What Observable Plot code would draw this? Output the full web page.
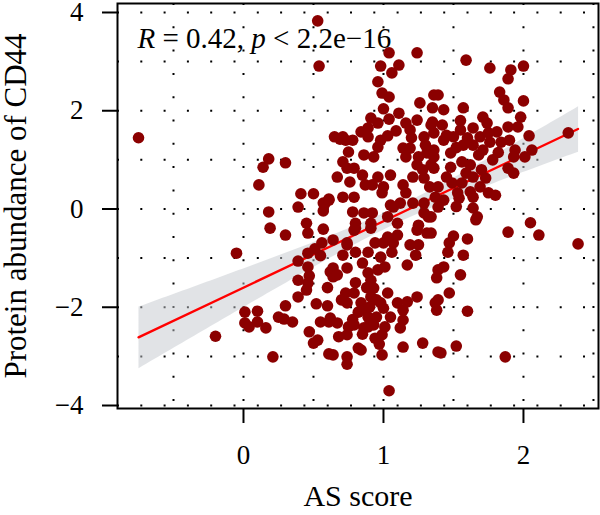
<!DOCTYPE html>
<html><head><meta charset="utf-8">
<script src="https://cdn.jsdelivr.net/npm/d3@7"></script>
<script src="https://cdn.jsdelivr.net/npm/@observablehq/plot@0.6"></script>
<style>body{margin:0;background:#fff} svg{display:block}</style>
</head><body><div id="chart"></div>
<script>
const asScore = [
-0.75,-0.05,-0.20,0.18,0.14,0.30,0.11,0.18,0.19,0.30,
0.39,0.39,0.39,0.39,0.30,0.25,0.29,0.01,0.10,0.01,
0.10,0.04,0.16,0.21,0.41,0.50,0.61,0.58,0.57,0.45,
0.46,0.57,0.64,0.56,0.51,0.46,0.46,0.47,0.46,0.62,
0.64,0.64,0.52,0.60,0.62,0.61,0.67,0.47,0.53,0.50,
0.61,0.53,0.54,0.65,0.69,0.67,0.71,0.57,0.61,0.71,
0.73,0.71,0.74,0.74,0.67,1.04,1.24,0.98,1.11,1.06,
0.96,0.99,1.04,1.26,1.36,1.39,1.35,1.00,1.11,0.91,
0.96,1.04,1.16,1.24,1.19,1.34,1.29,1.36,1.09,0.89,
0.84,0.78,0.89,0.98,1.03,0.96,0.75,0.71,0.74,0.79,
0.86,0.93,1.14,1.19,1.16,1.25,1.31,1.36,1.24,1.34,
0.85,0.96,1.05,0.76,0.87,0.92,1.00,1.14,1.21,1.29,
0.79,0.99,1.16,1.12,1.21,1.29,1.07,0.78,0.86,0.92,
1.03,1.29,0.80,0.91,1.10,1.25,0.80,0.91,1.05,1.24,
1.31,0.74,0.80,0.89,0.94,1.00,1.07,1.10,1.03,1.19,
1.25,1.23,1.06,0.98,0.79,0.75,1.01,1.17,0.96,0.89,
0.91,0.93,0.91,1.03,0.73,0.79,0.74,0.84,0.86,0.98,
1.10,1.17,1.24,1.00,1.14,0.79,0.89,0.89,0.93,1.01,
1.14,1.12,0.74,0.86,1.14,0.99,0.94,1.28,0.84,0.64,
0.74,0.74,0.99,1.04,1.39,1.39,0.82,1.59,1.76,1.91,
2.00,1.89,1.83,1.86,2.00,1.89,1.57,1.43,1.35,1.42,
1.71,1.74,1.98,1.96,1.89,1.55,1.64,1.81,1.50,1.69,
1.76,1.84,1.43,1.57,1.64,1.71,2.04,2.06,1.94,2.01,
1.93,1.36,1.48,1.56,1.62,1.36,1.89,1.93,1.59,1.64,
1.73,1.49,1.56,1.39,1.69,1.75,1.80,1.64,1.53,1.37,
1.43,1.39,1.54,1.64,1.67,1.34,1.66,2.05,1.89,2.11,
1.50,1.47,1.60,1.46,1.57,1.43,1.39,1.38,1.55,1.47,
1.37,1.38,1.60,1.52,1.41,1.87,2.39,2.32,1.34,1.32,
1.45,1.52,1.60,1.68,1.75,1.55,1.48,1.62,1.70,1.82,
1.30,1.20,1.45,1.33,1.28,1.78,1.90,1.52,0.82,0.90,
0.95,0.85,0.78,0.95,1.05,0.70,0.88,0.60,0.55,0.68,
0.97,0.80,0.45,0.35,0.55,0.85
];
const cd44 = [
1.45,-0.90,-2.59,1.02,0.85,0.94,0.49,-0.06,-0.39,-0.53,
0.04,-1.06,-1.45,-1.79,-1.97,-2.20,-2.24,-2.10,-2.08,-2.32,
-2.30,-2.40,-2.42,-3.01,0.31,0.31,0.20,0.10,-0.04,-0.29,
-0.49,-0.41,-0.63,-0.69,-0.81,-0.90,-1.18,-1.36,-1.51,-1.28,
-1.38,-1.20,-1.93,-1.97,-2.22,-2.30,-2.32,-2.50,-2.67,-2.73,
-2.95,3.83,2.91,1.47,1.42,0.65,0.24,0.12,0.18,1.47,
1.40,-0.94,-0.73,-1.20,-1.34,3.18,3.18,2.91,2.93,2.77,
2.59,2.36,2.28,2.16,2.32,2.32,2.06,2.04,1.95,1.85,
1.75,1.83,1.75,1.81,1.61,1.71,1.47,1.55,1.59,1.65,
1.57,1.40,1.47,1.40,1.49,1.26,1.16,0.96,0.83,0.83,
1.10,1.06,1.24,1.24,1.06,1.06,1.14,1.06,0.90,0.90,
0.69,0.65,0.69,0.55,0.49,0.49,0.45,0.49,0.65,0.63,
0.24,0.33,0.33,0.12,0.12,0.12,0.04,-0.06,-0.08,-0.08,
-0.16,-0.08,-0.29,-0.29,-0.29,-0.33,-0.39,-0.39,0.08,-0.43,
-0.49,-0.69,-0.88,-0.88,-0.69,-0.69,-0.69,-0.53,-0.57,-0.73,
-0.73,-0.94,-0.88,-0.98,-0.43,-2.40,-1.18,-1.14,-1.24,-1.30,
-1.45,-1.61,-1.79,-1.71,-1.71,-1.71,-1.91,-1.91,-2.06,-1.91,
-1.91,-1.89,-1.79,-2.02,-2.06,-2.36,-2.20,-2.40,-2.36,-2.40,
-2.26,-2.42,-2.56,-2.42,-2.81,-2.56,-2.63,-2.73,-2.87,-2.97,
-3.01,-3.16,-2.97,-3.70,-1.85,-2.91,-2.83,3.03,2.87,2.83,
2.91,2.65,2.38,2.22,2.20,2.06,2.06,2.02,1.77,1.71,
1.87,1.75,1.87,1.67,1.67,1.61,1.65,1.57,1.47,1.47,
1.36,1.36,1.40,1.30,1.30,1.20,1.49,1.20,1.20,1.06,
1.06,1.20,1.14,0.96,0.90,0.83,0.83,0.73,0.73,0.65,
0.63,0.53,0.53,0.45,0.45,0.33,0.28,0.24,0.33,0.24,
0.18,0.04,0.22,0.02,-0.16,-0.16,-0.22,-0.28,-0.47,-0.53,
-0.55,-0.69,-0.61,-0.88,-0.94,-1.18,-1.24,-1.40,-1.34,-1.71,
-1.91,-2.06,-2.08,-2.79,-2.93,-3.01,-0.71,1.55,-0.49,-0.16,
1.50,1.25,1.45,1.10,1.55,1.80,0.85,0.35,0.80,1.15,
1.30,1.45,0.65,0.45,0.80,1.00,1.40,0.05,-2.10,-2.00,
-2.20,-2.55,-2.25,-1.85,-2.20,-1.85,-1.60,-1.60,-2.30,-2.60,
-2.75,-1.50,-1.65,-2.30,-0.95,-1.10
];
const xTicks = [0, 1, 2];
const yTicks = [-4, -2, 0, 2, 4];
const xGrid = [-0.5, 0, 0.5, 1, 1.5, 2, 2.5];
const yGrid = [-4, -3, -2, -1, 0, 1, 2, 3, 4];
const xDomain = [-0.9, 2.536];
const yDomain = [-4.061, 4.183];
const annotationParts = [["R", true], [" = 0.42, ", false], ["p", true], [" < 2.2e\u221216", false]];
const annotation = annotationParts.map(d => d[0]).join("");
const xLabel = "AS score";
const yLabel = "Protein abundance of CD44";

const data = asScore.map((x, i) => ({x, y: cd44[i]}));
const font = "'Liberation Serif', 'DejaVu Serif', serif";
const dotted = {stroke: "#000", strokeWidth: 2, strokeDasharray: "2,21.3"};
const fmt = d => d < 0 ? "\u2212" + Math.abs(d) : String(d);

const plot = Plot.plot({
  width: 600, height: 515,
  marginLeft: 117, marginRight: 2, marginTop: 3, marginBottom: 107,
  style: {fontFamily: font, background: "#fff", color: "#000"},
  x: {domain: xDomain},
  y: {domain: yDomain},
  marks: [
    Plot.ruleX(xGrid, {x: d => d, y1: yDomain[1], y2: yDomain[0], ...dotted}),
    Plot.ruleY(yGrid, {y: d => d, x1: xDomain[0], x2: xDomain[1], ...dotted}),
    Plot.linearRegressionY(data, {x: "x", y: "y", stroke: "#ff0000", strokeWidth: 2.3, fill: "#c3c8ce", fillOpacity: 0.5}),
    Plot.dot(data, {x: "x", y: "y", r: 5.8, fill: "#8b0000"}),
    Plot.frame({stroke: "#000", strokeWidth: 2}),
    Plot.axisX({ticks: xTicks, tickSize: 15, tickPadding: 21, fontSize: 27, strokeWidth: 2, label: null, tickFormat: fmt}),
    Plot.axisY({ticks: yTicks, tickSize: 15, tickPadding: 19, fontSize: 27, strokeWidth: 2, label: null, tickFormat: fmt}),
    Plot.text([xLabel], {frameAnchor: "bottom", lineAnchor: "middle", dy: 88, fontSize: 30}),
    Plot.text([yLabel], {frameAnchor: "left", textAnchor: "middle", rotate: -90, lineAnchor: "middle", dx: -101, fontSize: 31}),
    Plot.text([annotation], {frameAnchor: "top-left", textAnchor: "start", lineAnchor: "middle", dx: 20, dy: 35, fontSize: 29})
  ]
});

plot.querySelectorAll("text").forEach(el => {
  if (el.textContent === annotation) {
    el.textContent = "";
    el.setAttribute("xml:space", "preserve");
    el.style.whiteSpace = "pre";
    for (const [s, it] of annotationParts) {
      const ts = document.createElementNS("http://www.w3.org/2000/svg", "tspan");
      ts.textContent = s;
      if (it) ts.setAttribute("font-style", "italic");
      el.appendChild(ts);
    }
  }
});
document.getElementById("chart").appendChild(plot);
</script>
</body></html>
